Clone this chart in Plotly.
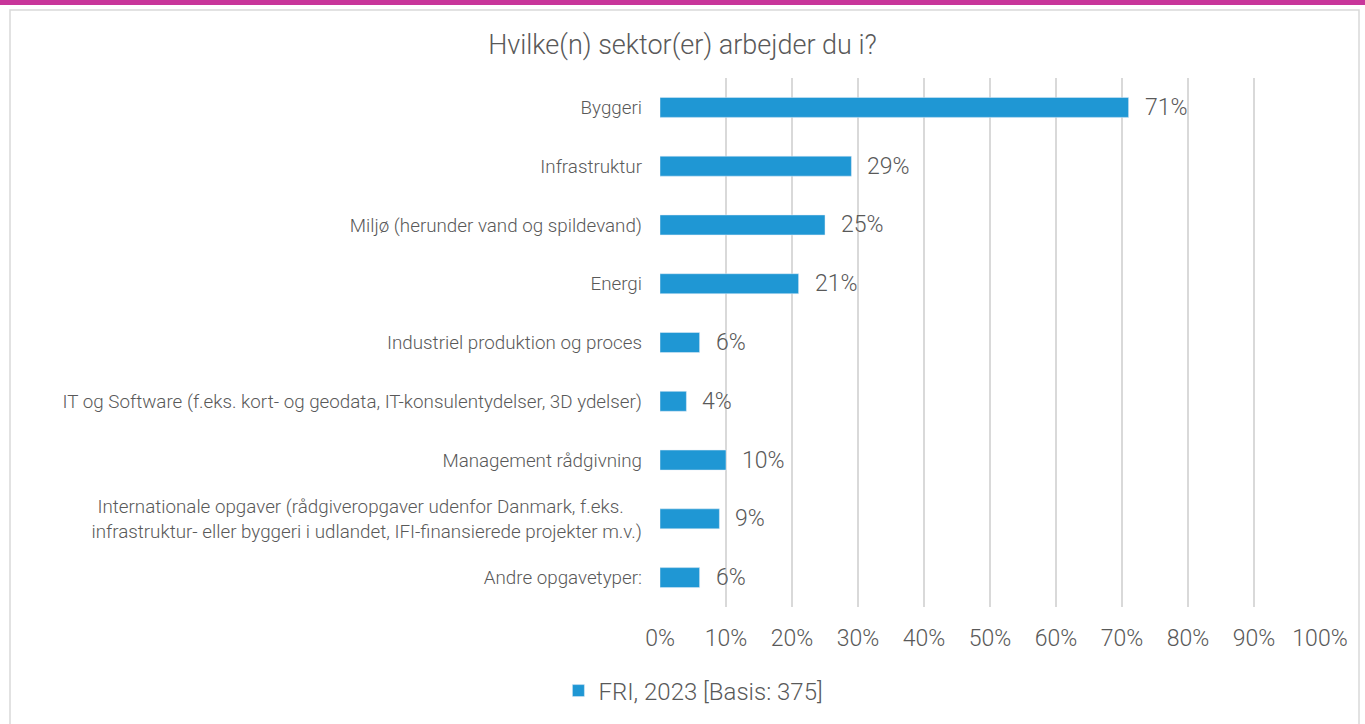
import plotly.graph_objects as go

categories = [
    "Byggeri",
    "Infrastruktur",
    "Miljø (herunder vand og spildevand)",
    "Energi",
    "Industriel produktion og proces",
    "IT og Software (f.eks. kort- og geodata, IT-konsulentydelser, 3D ydelser)",
    "Management rådgivning",
    "Internationale opgaver (rådgiveropgaver udenfor Danmark, f.eks.\u00a0\u00a0\u00a0\u00a0<br>infrastruktur- eller byggeri i udlandet, IFI-finansierede projekter m.v.)",
    "Andre opgavetyper:",
]
values = [0.71, 0.29, 0.25, 0.21, 0.06, 0.04, 0.10, 0.09, 0.06]
labels = ["71%", "29%", "25%", "21%", "6%", "4%", "10%", "9%", "6%"]
series_name = "FRI, 2023 [Basis: 375]"
title = "Hvilke(n) sektor(er) arbejder du i?"
tick_vals = [0, 0.1, 0.2, 0.3, 0.4, 0.5, 0.6, 0.7, 0.8, 0.9, 1.0]
tick_text = ["0%", "10%", "20%", "30%", "40%", "50%", "60%", "70%", "80%", "90%", "100%"]

BAR = "#1f97d4"
TXT = "#595959"
FONT = "Roboto"

W, H = 1365, 724
L, R, T, B = 660, 45, 78, 117

fig = go.Figure()
fig.add_trace(go.Bar(
    y=categories, x=values, orientation="h", name=series_name,
    marker=dict(color=BAR), width=0.34, showlegend=True,
))

for c, v, t in zip(categories, values, labels):
    fig.add_annotation(x=v, y=c, text=t, showarrow=False, xanchor="left",
                       xshift=14, font=dict(family=FONT, size=23, color=TXT, weight=300))

def px_x(px):
    return (px - L) / (W - L - R)

def px_y(py):
    return (H - B - py) / (H - T - B)

shapes = [
    dict(type="rect", xref="paper", yref="paper", x0=px_x(10), x1=px_x(1359),
         y0=px_y(740), y1=px_y(10), line=dict(color="#d9d9d9", width=1.5), layer="below"),
    dict(type="rect", xref="paper", yref="paper", x0=px_x(-5), x1=px_x(1370),
         y0=px_y(5), y1=px_y(-5), line=dict(width=0), fillcolor="#c8369a", layer="above"),
]

fig.update_layout(
    width=W, height=H,
    margin=dict(l=L, r=R, t=T, b=B, autoexpand=False),
    paper_bgcolor="white", plot_bgcolor="white",
    font=dict(family=FONT, color=TXT, weight=300),
    title=dict(text=title, x=0.5, xref="container", xanchor="center", y=1 - 45 / H,
               yref="container", yanchor="middle",
               font=dict(family=FONT, size=27, color=TXT, weight=300)),
    xaxis=dict(range=[0, 1.0], tickvals=tick_vals, ticktext=tick_text,
               showgrid=True, gridcolor="#d9d9d9", gridwidth=1.5, zeroline=False,
               showline=False, ticks="", ticklabelstandoff=15,
               tickfont=dict(family=FONT, size=23, color=TXT, weight=300)),
    yaxis=dict(autorange="reversed", showgrid=False, ticks="", showline=False,
               ticklabelstandoff=17,
               tickfont=dict(family=FONT, size=18.8, color=TXT, weight=300)),
    legend=dict(orientation="h", x=0.508, xref="container", xanchor="center",
                y=1 - 691 / H, yref="container", yanchor="middle",
                font=dict(family=FONT, size=24, color=TXT, weight=300),
                itemwidth=30),
    shapes=shapes,
    bargap=0.66,
)

fig.write_html("out.html", config={"displayModeBar": False},
               post_script="document.body.style.margin='0';document.body.style.padding='0';")
